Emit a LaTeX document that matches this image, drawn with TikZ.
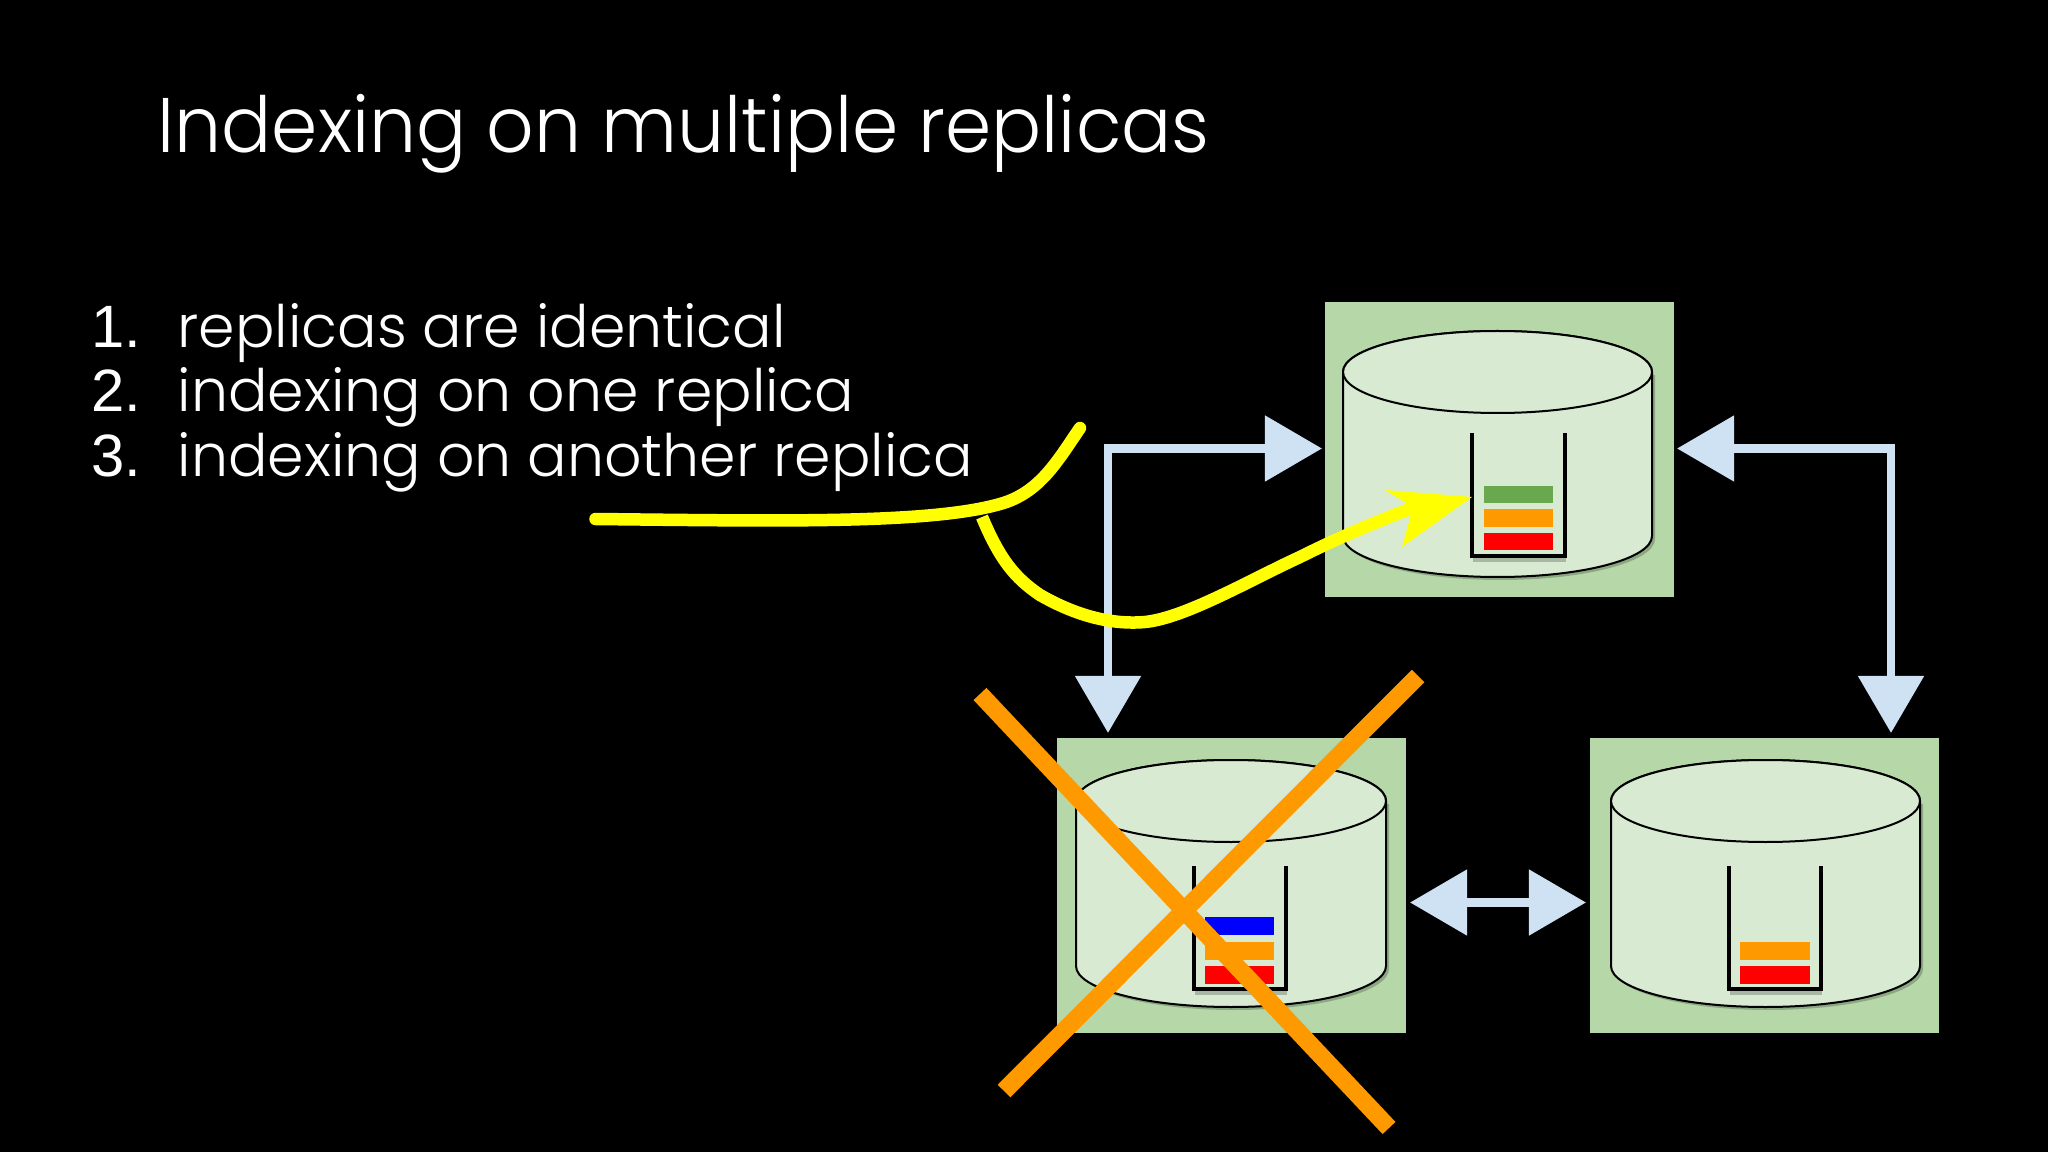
\documentclass[tikz,border=0pt]{standalone}
\usepackage{fontspec}
\usetikzlibrary{arrows.meta,calc}
\setmainfont{Poppins}[UprightFont=* Light]
\newfontfamily\titlefont{Poppins}[UprightFont=* Light,FakeStretch=0.96]
\newfontfamily\numfont{Liberation Sans}
\definecolor{boxgreen}{HTML}{B6D7A8}
\definecolor{cylgreen}{HTML}{D9EAD3}
\definecolor{arrowblue}{HTML}{CFE2F3}
\definecolor{xorange}{HTML}{FF9900}
\definecolor{blockgreen}{HTML}{6AA84F}
\definecolor{yel}{HTML}{FFFF00}
\newlength{\px}\setlength{\px}{0.01cm}
\tikzset{
  replicabox/.style={fill=boxgreen,draw=none,inner sep=0pt,outer sep=0pt,minimum width=349\px,minimum height=295\px,anchor=north west},
  cylfill/.style={fill=cylgreen,draw=black,line width=2\px},
  cylshadow/.style={fill=black,draw=none,opacity=0.22},
  bucketline/.style={draw=black,line width=3.6\px,line cap=butt,line join=miter},
  bucketshadow/.style={draw=black,opacity=0.22,line width=4\px,line cap=butt},
  link/.style={draw=arrowblue,line width=8.5\px,{Triangle[length=0.57cm,width=0.64cm]}-{Triangle[length=0.57cm,width=0.64cm]}},
  cross/.style={draw=xorange,line width=17.7\px,line cap=butt},
  pen/.style={draw=yel,line width=12.5\px,line cap=round,line join=round},
  titletext/.style={text=white,anchor=base west,inner sep=0pt,font=\titlefont\fontsize{22}{22}\selectfont},
  listtext/.style={text=white,anchor=base west,inner sep=0pt,font=\fontsize{16.65}{16.65}\selectfont},
  numtext/.style={text=white,anchor=base west,inner sep=0pt,font=\numfont\fontsize{17}{17}\selectfont},
}
\newcommand{\cyl}[4]{% left x, right x, top-ellipse centre y, bottom-ellipse centre y
  \fill[cylshadow] (#1+3,#3+3) -- (#1+3,#4+3) arc[start angle=180,end angle=360,x radius={(#2-#1)/2},y radius=-41] -- (#2+3,#3+3) -- cycle;
  \path[cylfill] (#1,#3) -- (#1,#4) arc[start angle=180,end angle=360,x radius={(#2-#1)/2},y radius=-41] -- (#2,#3) arc[start angle=0,end angle=180,x radius={(#2-#1)/2},y radius=-41] -- cycle;
  \draw[cylfill] ({(#1+#2)/2},#3) ellipse[x radius={(#2-#1)/2},y radius=41];
}
\newcommand{\bucket}[4]{% left x, right x, top y, bottom y
  \draw[bucketshadow] (#1+1,#4+4) -- (#2+1,#4+4);
  \draw[bucketline] (#1,#3) -- (#1,#4) -- (#2,#4) -- (#2,#3);
}
\begin{document}
\begin{tikzpicture}[x=0.01cm,y=-0.01cm]
\useasboundingbox (0,0) rectangle (2048,1152);
\fill[black] (0,0) rectangle (2048,1152);

\node[titletext] (title) at (157,153) {Indexing on multiple replicas};
\node[numtext] (n1) at (91,348) {1.};
\node[listtext] (l1) at (177,348) {replicas are identical};
\node[numtext] (n2) at (91,412) {2.};
\node[listtext] (l2) at (177,412) {indexing on one replica};
\node[numtext] (n3) at (91,477) {3.};
\node[listtext] (l3) at (177,477) {indexing on another replica};

\node[replicabox] (box1) at (1325,302) {};
\node[replicabox] (box2) at (1057,738) {};
\node[replicabox] (box3) at (1590,738) {};

\cyl{1343}{1652}{372}{536}
\bucket{1472}{1565}{433}{556}
\fill[blockgreen] (1484,486) rectangle (1553,503);
\fill[xorange] (1484,509) rectangle (1553,527);
\fill[red] (1484,533) rectangle (1553,550);

\cyl{1076}{1386}{801}{966}
\bucket{1194}{1286}{866}{989}
\fill[blue] (1205,917) rectangle (1274,935);
\fill[xorange] (1205,942) rectangle (1274,960);
\fill[red] (1205,966) rectangle (1274,984);

\cyl{1611}{1920}{801}{966}
\bucket{1729}{1821}{866}{989}
\fill[xorange] (1740,942) rectangle (1810,960);
\fill[red] (1740,966) rectangle (1810,984);

\draw[link,shorten <=3\px,shorten >=5\px] ([yshift=1\px]box1.west) -| ([xshift=51\px]box2.north west);
\draw[link,shorten <=3\px,shorten >=5\px] ([yshift=1\px]box1.east) -| ([xshift=301\px]box3.north west);
\draw[link,shorten <=4\px,shorten >=4\px] ([yshift=-17\px]box2.east) -- ([yshift=-17\px]box3.west);

\coordinate (xa) at (980,694);
\coordinate (xb) at (1389,1128);
\coordinate (xc) at (1418,676);
\coordinate (xd) at (1004,1091);
\draw[cross] (xa) -- (xb);
\draw[cross] (xc) -- (xd);

\draw[pen] (595.5,519) .. controls (780,521) and (930,524) .. (1000,504) .. controls (1040,493) and (1058,460) .. (1080,428);
\draw[pen,line cap=butt] (982,517) .. controls (1000,560) and (1015,578) .. (1040,595) .. controls (1075,615) and (1110,625) .. (1145,622) .. controls (1185,618) and (1250,580) .. (1300,557) .. controls (1340,537) and (1380,520) .. (1415,507);
\fill[yel] (1472,497) -- (1385,490) -- (1413,507) -- (1402,547) -- cycle;
\end{tikzpicture}
\end{document}
